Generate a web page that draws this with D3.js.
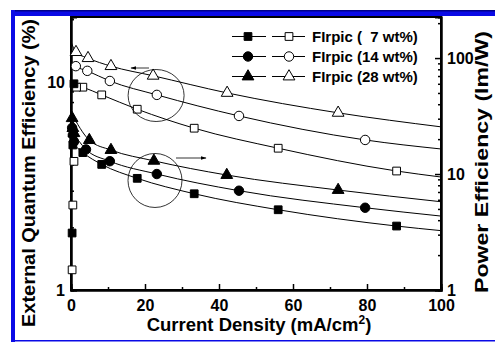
<!DOCTYPE html>
<html>
<head>
<meta charset="utf-8">
<script src="https://cdn.jsdelivr.net/npm/d3@7"></script>
<style>
  body { margin: 0; background: #fff; }
  svg text { font-family: "Liberation Sans", Arial, sans-serif; font-weight: bold; fill: #000; }
</style>
</head>
<body>
<div id="chart"></div>
<script>
// ---- data ----
// EQE (left axis, open symbols)
const j7 = [3.2, 8.3, 17.9, 33.3, 56, 88];
const eqe7 = [9.43, 8.66, 7.39, 5.99, 4.80, 3.73];
const j14 = [1.3, 4.4, 10.5, 23.2, 45.4, 79.5];
const eqe14 = [11.9, 11.3, 10.1, 8.66, 6.86, 5.26];
const j28 = [1.35, 4.6, 10.8, 22.2, 42.2, 72.2];
const eqe28 = [13.9, 13.0, 11.9, 10.7, 8.85, 7.1];
// PE (right axis, closed symbols)
const pe7 = [15.3, 12.1, 9.18, 6.76, 4.92, 3.56];
const pe14 = [16.3, 12.9, 10.0, 7.18, 5.12];
const pe28 = [19.6, 16.1, 13.0, 9.8, 7.28];
const jPe14 = [4.05, 10.5, 23.2, 45.4, 79.5];
const jPe28 = [4.95, 10.8, 22.4, 42.1, 72.2];
// fitted line ends (J = 0 and J = 100)
const fitStartEqe = [9.8, 12.7, 15.6];
const fitEndEqe = [3.49, 4.76, 6.08];
const fitStartPe = [19, 24, 34];
const fitEndPe = [3.25, 4.34, 5.77];
// low current density points sitting on the axis
const lowJ = [0.3, 0.5, 0.8, 1.5];
const lowEqe7 = [1.25, 2.56, 4.15, 9.43];
const lowPe7 = [3.1, 17.8, 60];
const lowPe14 = [25, 21.7, 19.0];
const lowPe28 = [30.3, 24.9, 22.5];
const labels = ["FIrpic (  7 wt%)", "FIrpic (14 wt%)", "FIrpic (28 wt%)"];
const xTicks = [0, 20, 40, 60, 80, 100];

const width = 495, height = 344;
const margin = {top: 17, right: 54, bottom: 54, left: 71};

const svg = d3.select("#chart").append("svg")
    .attr("width", width).attr("height", height);

// blue frame
svg.append("rect").attr("x", 11).attr("y", 10).attr("width", 490).attr("height", 6).attr("fill", "#0a0ae6");
svg.append("rect").attr("x", 11).attr("y", 10).attr("width", 490).attr("height", 1.5).attr("fill", "#00008a");
svg.append("rect").attr("x", 11).attr("y", 10).attr("width", 4).attr("height", 332).attr("fill", "#0a0ae6");
svg.append("rect").attr("x", 11).attr("y", 340).attr("width", 490).attr("height", 1.5).attr("fill", "#0a0ae6");

const x = d3.scaleLinear().domain([0, 100]).range([margin.left, width - margin.right]);
const yL = d3.scaleLog().domain([1, 20.5]).range([height - margin.bottom, margin.top]);
const yR = d3.scaleLog().domain([1, 226]).range([height - margin.bottom, margin.top]);

const plotW = width - margin.right - margin.left;
const plotH = height - margin.bottom - margin.top;

// frame of the plot
svg.append("rect")
    .attr("x", margin.left).attr("y", margin.top)
    .attr("width", plotW).attr("height", plotH)
    .attr("fill", "none").attr("stroke", "#000").attr("stroke-width", 2);

function minorLog(max) {
    let v = [];
    for (let d = 1; d <= max; d *= 10) {
        for (let k = 2; k < 10; k++) if (d * k <= max) v.push(d * k);
    }
    return v;
}

// bottom axis
svg.append("g").attr("transform", `translate(0,${height - margin.bottom})`)
    .call(d3.axisBottom(x).tickValues(xTicks).tickFormat(d3.format("d")).tickSize(-6).tickPadding(10));
svg.append("g").attr("transform", `translate(0,${height - margin.bottom})`)
    .call(d3.axisBottom(x).tickValues([10, 30, 50, 70, 90]).tickFormat("").tickSize(-3));

// left axis
svg.append("g").attr("transform", `translate(${margin.left},0)`)
    .call(d3.axisLeft(yL).tickValues([1, 10]).tickFormat(d3.format("d")).tickSize(-6).tickPadding(6));
svg.append("g").attr("transform", `translate(${margin.left},0)`)
    .call(d3.axisLeft(yL).tickValues(minorLog(20)).tickFormat("").tickSize(-3));

// right axis
svg.append("g").attr("transform", `translate(${width - margin.right},0)`)
    .call(d3.axisRight(yR).tickValues([1, 10, 100]).tickFormat(d3.format("d")).tickSize(-6).tickPadding(6));
svg.append("g").attr("transform", `translate(${width - margin.right},0)`)
    .call(d3.axisRight(yR).tickValues(minorLog(226)).tickFormat("").tickSize(-3));

svg.selectAll(".domain").attr("stroke-width", 2);
svg.selectAll(".tick line").attr("stroke-width", 1.5);
svg.selectAll(".tick text").style("font-size", "16px");

// axis titles
svg.append("text")
    .attr("transform", `translate(35,173) rotate(-90)`)
    .attr("text-anchor", "middle").style("font-size", "18px")
    .attr("textLength", 308).attr("lengthAdjust", "spacingAndGlyphs")
    .text("External Quantum Efficiency (%)");
svg.append("text")
    .attr("transform", `translate(488,162) rotate(-90)`)
    .attr("text-anchor", "middle").style("font-size", "18px")
    .attr("textLength", 262).attr("lengthAdjust", "spacingAndGlyphs")
    .text("Power Efficiency (lm/W)");
const xt = svg.append("text")
    .attr("x", 259).attr("y", 331)
    .attr("text-anchor", "middle").style("font-size", "18.5px");
xt.append("tspan").text("Current Density (mA/cm");
xt.append("tspan").attr("dy", -7).style("font-size", "12px").text("2");
xt.append("tspan").attr("dy", 7).text(")");

const shapes = [d3.symbolSquare, d3.symbolCircle, d3.symbolTriangle];
const sizes = [60, 70, 60];

const line = d3.line().x(d => d[0]).y(d => d[1]).curve(d3.curveMonotoneX);
const plotG = svg.append("g");

function drawSeries(js, vals, y, start, end, shape, size, open) {
    const pts = js.map((j, i) => [x(j), y(vals[i])]);
    plotG.append("path")
        .attr("d", line([[x(0), y(start)], ...pts, [x(100), y(end)]]))
        .attr("fill", "none").attr("stroke", "#000").attr("stroke-width", 1);
    plotG.selectAll(null).data(pts).join("path")
        .attr("transform", d => `translate(${d[0]},${d[1]})`)
        .attr("d", d3.symbol().type(shape).size(size))
        .attr("fill", open ? "#fff" : "#000")
        .attr("stroke", "#000").attr("stroke-width", 1);
}

function drawPoints(js, vals, y, shape, size, open) {
    plotG.selectAll(null).data(vals).join("path")
        .attr("transform", (d, i) => `translate(${x(js[i])},${y(d)})`)
        .attr("d", d3.symbol().type(shape).size(size))
        .attr("fill", open ? "#fff" : "#000")
        .attr("stroke", "#000").attr("stroke-width", 1);
}

drawSeries(j7, eqe7, yL, fitStartEqe[0], fitEndEqe[0], shapes[0], sizes[0], true);
drawSeries(j14, eqe14, yL, fitStartEqe[1], fitEndEqe[1], shapes[1], sizes[1], true);
drawSeries(j28, eqe28, yL, fitStartEqe[2], fitEndEqe[2], shapes[2], sizes[2], true);
drawSeries(j7, pe7, yR, fitStartPe[0], fitEndPe[0], shapes[0], sizes[0], false);
drawSeries(jPe14, pe14, yR, fitStartPe[1], fitEndPe[1], shapes[1], sizes[1], false);
drawSeries(jPe28, pe28, yR, fitStartPe[2], fitEndPe[2], shapes[2], sizes[2], false);

drawPoints(lowJ, lowEqe7, yL, shapes[0], sizes[0], true);
drawPoints(lowJ, lowPe7, yR, shapes[0], sizes[0], false);
drawPoints(lowJ, lowPe14, yR, shapes[1], sizes[1], false);
drawPoints(lowJ, lowPe28, yR, shapes[2], sizes[2], false);

// circles and arrows pointing at the axes
const ann = svg.append("g").attr("fill", "none").attr("stroke", "#000").attr("stroke-width", 0.8);
ann.append("ellipse").attr("cx", x(23)).attr("cy", yL(8.6)).attr("rx", 28).attr("ry", 26);
ann.append("ellipse").attr("cx", x(22.7)).attr("cy", yR(8.8)).attr("rx", 27).attr("ry", 27);
svg.append("defs").append("marker").attr("id", "ah")
    .attr("viewBox", "0 0 10 10").attr("refX", 9).attr("refY", 5)
    .attr("markerWidth", 7).attr("markerHeight", 7).attr("orient", "auto-start-reverse")
    .append("path").attr("d", "M0,2 L10,5 L0,8 Z").attr("fill", "#000");
ann.append("line").attr("x1", 149).attr("y1", 68).attr("x2", 131).attr("y2", 68).attr("marker-end", "url(#ah)");
ann.append("line").attr("x1", 176).attr("y1", 158).attr("x2", 206).attr("y2", 158).attr("marker-end", "url(#ah)");

// legend
const leg = svg.append("g");
labels.forEach((lab, i) => {
    const ly = 36.5 + i * 20;
    leg.append("line").attr("x1", 232).attr("x2", 266).attr("y1", ly).attr("y2", ly).attr("stroke", "#000");
    leg.append("line").attr("x1", 272).attr("x2", 305).attr("y1", ly).attr("y2", ly).attr("stroke", "#000");
    leg.append("path").attr("transform", `translate(248,${ly})`)
        .attr("d", d3.symbol().type(shapes[i]).size(sizes[i])).attr("fill", "#000").attr("stroke", "#000");
    leg.append("path").attr("transform", `translate(289,${ly})`)
        .attr("d", d3.symbol().type(shapes[i]).size(sizes[i])).attr("fill", "#fff").attr("stroke", "#000");
    leg.append("text").attr("x", 312).attr("y", ly + 5).style("font-size", "15px")
        .attr("xml:space", "preserve").text(lab);
});
</script>
</body>
</html>
